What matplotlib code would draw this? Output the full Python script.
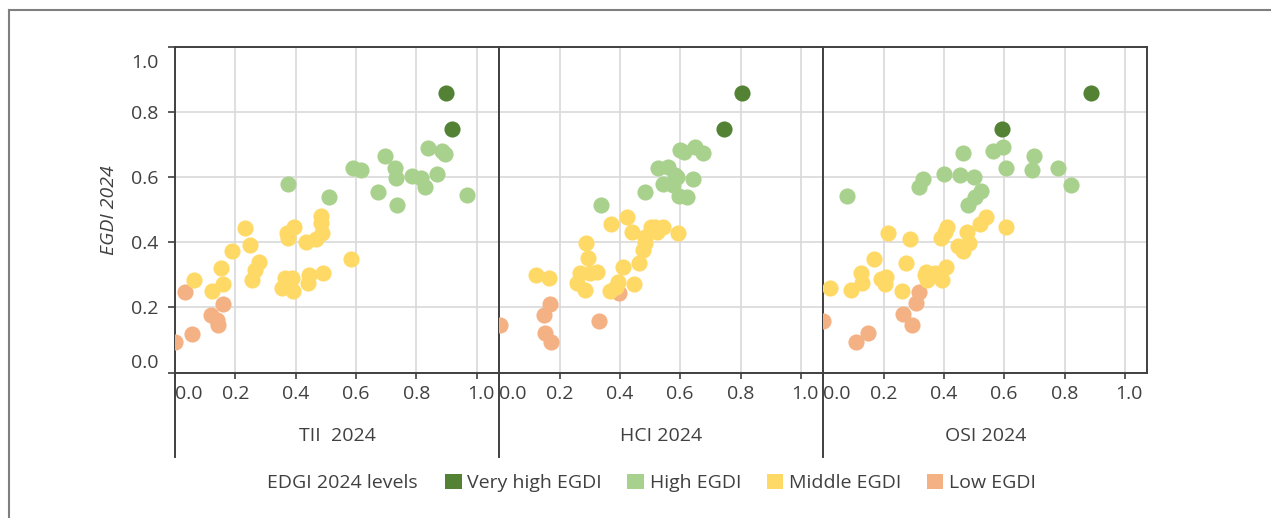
import numpy as np
import matplotlib
matplotlib.use("Agg")
import matplotlib.pyplot as plt
from matplotlib.lines import Line2D
from matplotlib.patches import Patch
from matplotlib.transforms import ScaledTranslation

# levels / colours
levels = ["Very high EGDI", "High EGDI", "Middle EGDI", "Low EGDI"]
colors = ["#548235", "#A9D18E", "#FFD966", "#F4B183"]

# TII 2024 panel
tii_vhigh_x = [0.898, 0.920]
tii_vhigh_y = [0.858, 0.747]
tii_high_x = [0.374, 0.511, 0.591, 0.616, 0.672, 0.697, 0.730, 0.732, 0.735, 0.787,
              0.815, 0.829, 0.838, 0.868, 0.887, 0.896, 0.967]
tii_high_y = [0.578, 0.540, 0.629, 0.622, 0.555, 0.666, 0.629, 0.597, 0.515, 0.604,
              0.597, 0.571, 0.691, 0.609, 0.680, 0.670, 0.544]
tii_mid_x = [0.064, 0.124, 0.151, 0.160, 0.189, 0.232, 0.249, 0.254, 0.265, 0.278,
             0.354, 0.365, 0.387, 0.390, 0.370, 0.374, 0.396, 0.433, 0.440, 0.446,
             0.467, 0.483, 0.484, 0.486, 0.492, 0.584]
tii_mid_y = [0.284, 0.251, 0.322, 0.271, 0.373, 0.443, 0.391, 0.284, 0.315, 0.339,
             0.259, 0.289, 0.289, 0.251, 0.428, 0.412, 0.446, 0.400, 0.274, 0.300,
             0.409, 0.482, 0.458, 0.430, 0.307, 0.348]
tii_low_x = [0.0, 0.033, 0.055, 0.120, 0.140, 0.144, 0.158]
tii_low_y = [0.095, 0.246, 0.118, 0.177, 0.160, 0.146, 0.210]

# HCI 2024 panel
hci_vhigh_x = [0.804, 0.746]
hci_vhigh_y = [0.858, 0.747]
hci_high_x = [0.337, 0.483, 0.527, 0.561, 0.583, 0.641, 0.544, 0.575, 0.597, 0.624,
              0.614, 0.649, 0.677, 0.588, 0.600]
hci_high_y = [0.515, 0.555, 0.627, 0.632, 0.607, 0.594, 0.579, 0.576, 0.543, 0.540,
              0.678, 0.692, 0.673, 0.601, 0.683]
hci_mid_x = [0.122, 0.166, 0.288, 0.295, 0.268, 0.323, 0.257, 0.284, 0.301, 0.370,
             0.422, 0.439, 0.367, 0.395, 0.411, 0.448, 0.464, 0.478, 0.483, 0.483,
             0.502, 0.522, 0.542, 0.594, 0.516, 0.387]
hci_mid_y = [0.300, 0.289, 0.399, 0.351, 0.305, 0.310, 0.274, 0.253, 0.307, 0.455,
             0.479, 0.433, 0.250, 0.279, 0.325, 0.271, 0.337, 0.376, 0.397, 0.417,
             0.448, 0.433, 0.448, 0.430, 0.448, 0.264]
hci_low_x = [0.002, 0.168, 0.148, 0.150, 0.171, 0.332, 0.398]
hci_low_y = [0.146, 0.211, 0.178, 0.121, 0.094, 0.157, 0.243]

# OSI 2024 panel
osi_vhigh_x = [0.888, 0.592]
osi_vhigh_y = [0.858, 0.747]
osi_high_x = [0.080, 0.317, 0.331, 0.399, 0.463, 0.454, 0.500, 0.524, 0.502, 0.480,
              0.563, 0.596, 0.607, 0.700, 0.691, 0.777, 0.822]
osi_high_y = [0.543, 0.571, 0.593, 0.610, 0.673, 0.607, 0.600, 0.558, 0.540, 0.515,
              0.681, 0.692, 0.629, 0.666, 0.622, 0.629, 0.576]
osi_mid_x = [0.021, 0.093, 0.126, 0.129, 0.168, 0.192, 0.209, 0.206, 0.215, 0.262,
             0.275, 0.287, 0.336, 0.342, 0.344, 0.369, 0.395, 0.406, 0.391, 0.403,
             0.410, 0.447, 0.463, 0.483, 0.478, 0.519, 0.539, 0.605]
osi_mid_y = [0.259, 0.253, 0.307, 0.276, 0.349, 0.286, 0.292, 0.272, 0.428, 0.250,
             0.337, 0.410, 0.300, 0.310, 0.284, 0.305, 0.284, 0.323, 0.412, 0.433,
             0.448, 0.389, 0.374, 0.399, 0.431, 0.456, 0.479, 0.446]
osi_low_x = [0.0, 0.110, 0.148, 0.264, 0.295, 0.309, 0.317]
osi_low_y = [0.158, 0.095, 0.120, 0.179, 0.146, 0.213, 0.248]

panels = [
    ("TII  2024", [(tii_vhigh_x, tii_vhigh_y), (tii_high_x, tii_high_y),
                   (tii_mid_x, tii_mid_y), (tii_low_x, tii_low_y)]),
    ("HCI 2024", [(hci_vhigh_x, hci_vhigh_y), (hci_high_x, hci_high_y),
                  (hci_mid_x, hci_mid_y), (hci_low_x, hci_low_y)]),
    ("OSI 2024", [(osi_vhigh_x, osi_vhigh_y), (osi_high_x, osi_high_y),
                  (osi_mid_x, osi_mid_y), (osi_low_x, osi_low_y)]),
]

plt.rcParams["font.family"] = ["Open Sans", "DejaVu Sans"]
txt = "#404040"
fs = 14

W, H = 1271, 518
fig = plt.figure(figsize=(W / 100, H / 100), dpi=100)

lefts = [175, 499.3, 823.3]
ax_w = 324
ax_bottom = (H - 372.5) / H
ax_h = 325.5 / H

for i, (label, series) in enumerate(panels):
    ax = fig.add_axes([lefts[i] / W, ax_bottom, ax_w / W, ax_h])
    # draw low first so higher levels sit on top
    for k in [3, 2, 1, 0]:
        xs, ys = series[k]
        ax.scatter(xs, ys, s=135, color=colors[k], linewidths=0, zorder=3)
    ax.set_xlim(0, ax_w / 301.5)
    ax.set_ylim(0, 1)
    ax.grid(True, color="#D9D9D9", linewidth=1.2, zorder=0)
    ax.set_axisbelow(True)
    for sp in ax.spines.values():
        sp.set_color(txt)
        sp.set_linewidth(1.4)
    ticks = np.arange(0, 1.01, 0.2)
    ax.set_xticks(ticks)
    ax.set_xticklabels([f"{v:.1f}" for v in ticks])
    ax.tick_params(axis="x", direction="out", length=4, width=1.2, color=txt,
                   labelsize=fs, labelcolor=txt, pad=5)
    xl = ax.get_xticklabels()
    xl[0].set_horizontalalignment("left")
    xl[-1].set_transform(xl[-1].get_transform() + ScaledTranslation(4 / 100, 0, fig.dpi_scale_trans))
    ax.set_yticks(ticks)
    if i == 0:
        ax.set_yticklabels([f"{v:.1f}" for v in ticks])
        ax.tick_params(axis="y", direction="out", length=5, width=1.2, color=txt,
                       labelsize=fs, labelcolor=txt, pad=7)
        yl = ax.get_yticklabels()
        yl[0].set_verticalalignment("bottom")
        yl[-1].set_verticalalignment("top")
        yl[-1].set_transform(yl[-1].get_transform() + ScaledTranslation(0, -7 / 100, fig.dpi_scale_trans))
        ax.set_ylabel("EGDI 2024", fontsize=fs, color=txt, style="italic", labelpad=9)
    else:
        ax.tick_params(axis="y", length=0, labelleft=False)
    # panel title below axis
    fig.text((lefts[i] + ax_w / 2) / W, (H - 436) / H, label, ha="center",
             va="center", fontsize=fs, color=txt)

# separator lines under the panels
for x in lefts:
    fig.add_artist(Line2D([x / W, x / W], [(H - 372.5) / H, (H - 457) / H],
                          color=txt, linewidth=1.4))

# outer frame (left + top)
fig.add_artist(Line2D([8.5 / W, 8.5 / W], [0, (H - 10) / H], color="#7F7F7F", linewidth=1.5))
fig.add_artist(Line2D([8.5 / W, 1], [(H - 10) / H, (H - 10) / H], color="#7F7F7F", linewidth=1.5))

# legend
fig.text(267 / W, (H - 483) / H, "EDGI 2024 levels", ha="left", va="center",
         fontsize=fs, color=txt)
handles = [Patch(facecolor=c, edgecolor="none") for c in colors]
fig.legend(handles, levels, loc="center left", bbox_to_anchor=(445 / W, (H - 483) / H),
           ncol=4, frameon=False, fontsize=fs, labelcolor=txt,
           handlelength=0.85, handleheight=0.85, handletextpad=0.3,
           columnspacing=1.3, borderaxespad=0, borderpad=0)

fig.savefig("out.png", dpi=100)
